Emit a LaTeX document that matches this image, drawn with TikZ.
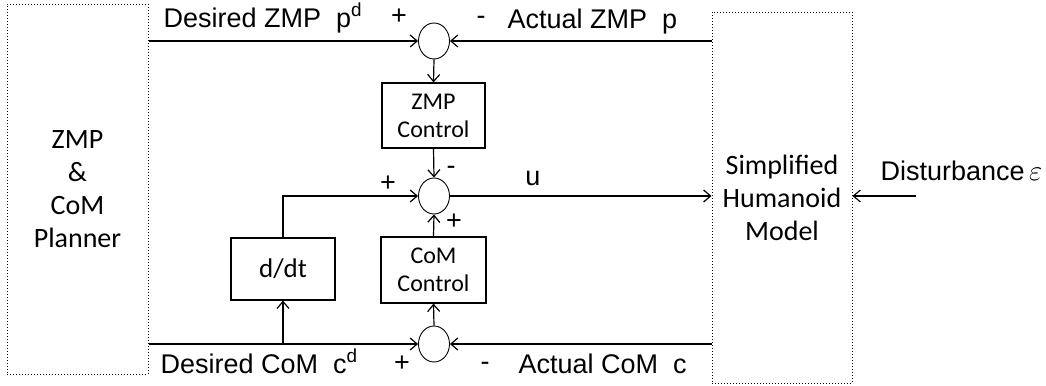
\documentclass[tikz,border=0pt]{standalone}
\usepackage{fontspec}
\setmainfont{Liberation Sans}
\newfontfamily\carlito{Carlito}
\usetikzlibrary{arrows.meta,shapes.geometric}

\tikzset{
	blk/.style={draw, line width=0.6pt, inner sep=0pt, align=center,
		font=\carlito\fontsize{12}{14}\selectfont},
	sum/.style={draw, ellipse, line width=0.45pt, minimum width=15.5pt,
		minimum height=18pt, inner sep=0pt},
	sys/.style={draw, densely dotted, line width=0.5pt, align=center,
		font=\carlito\fontsize{14}{16.5}\selectfont},
	lbl/.style={anchor=base west, inner sep=0pt, font=\fontsize{13.5}{16}\selectfont},
	sgn/.style={anchor=base, inner sep=0pt, font=\fontsize{13.5}{16}\selectfont},
}

\begin{document}
\begin{tikzpicture}[x=0.5pt, y=-0.5pt, line width=0.6pt,
	>={Straight Barb[length=3.5pt,width=6pt]}]
	\useasboundingbox (0,0) rectangle (1046,386);
	% planner and plant
	\node[sys, minimum width=70.5pt, minimum height=185pt] (planner) at (77.5,189)
	{ZMP\\\&\\CoM\\Planner};
	\node[sys, minimum width=70pt, minimum height=185.5pt] (model) at (782,197.5)
	{Simplified\\Humanoid\\Model};
	% summing points
	\node[sum] (sumP) at (434,41) {};
	\node[sum] (sumU) at (434,196) {};
	\node[sum] (sumC) at (434,344) {};
	% controllers
	\node[blk, minimum width=51.5pt, minimum height=32.5pt] (zmpctl) at (433.5,115.5)
	{ZMP\\Control};
	\node[blk, minimum width=52.5pt, minimum height=33pt] (comctl) at (433.5,270)
	{CoM\\Control};
	\node[blk, minimum width=52pt, minimum height=31pt, font=\carlito\fontsize{13.5}{15}\selectfont]
	(ddt) at (283,269) {d/dt};
	\coordinate (dsrc) at (916,196);
	% connections
	\draw[->] (planner.east |- sumP) -- (sumP.west);
	\draw[->] (model.west |- sumP) -- (sumP.east);
	\draw[->] (sumP.south) -- (zmpctl.north);
	\draw[->] (zmpctl.south) -- (sumU.north);
	\draw[->] (comctl.north) -- (sumU.south);
	\draw[->] (sumC.north) -- (comctl.south);
	\draw[->] (planner.east |- sumC) -- (sumC.west);
	\draw[->] (model.west |- sumC) -- (sumC.east);
	\draw[->] (ddt.south |- sumC) -- (ddt.south);
	\draw[->] (ddt.north) -- (ddt.north |- sumU) -- (sumU.west);
	\draw[->] (sumU.east) -- (model.west |- sumU);
	\draw[->] (dsrc) -- (model.east |- dsrc);
	% labels
	\node[lbl] (pdes) at (163,27) {Desired ZMP\ \ p\textsuperscript{d}};
	\node[lbl] (pact) at (507,28) {Actual ZMP\ \ p};
	\node[lbl] (cdes) at (160,373) {Desired CoM\ \ c\textsuperscript{d}};
	\node[lbl] (cact) at (518,373) {Actual CoM\ \ c};
	\node[lbl] (dist) at (880,180) {Disturbance\,$\varepsilon$};
	\node[sgn] (ulbl) at (533,185) {u};
	\foreach \n/\x/\y/\s in {s1/399/24/+, s2/481/24/-, s3/451/174/-, s4/388/191/+,
		s5/454/229/+, s6/402/371/+, s7/485/370/-}
	\node[sgn] (\n) at (\x,\y) {\s};
\end{tikzpicture}
\end{document}
